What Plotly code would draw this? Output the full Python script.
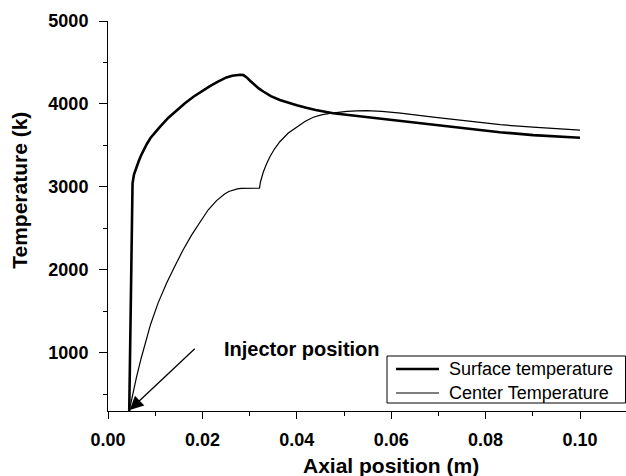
import plotly.graph_objects as go

# Axial temperature profiles along the torch
surface_x = [0.0045, 0.0048, 0.0052, 0.0055, 0.0060, 0.0065, 0.0070, 0.0075, 0.0082, 0.0090,
             0.0100, 0.0110, 0.0128, 0.0146, 0.0163, 0.0181, 0.0198, 0.0216, 0.0233, 0.0251,
             0.0263, 0.0273, 0.0280, 0.0287, 0.0294, 0.0301, 0.0310, 0.0320, 0.0329, 0.0345,
             0.0364, 0.0382, 0.0400, 0.0420, 0.0440, 0.0477, 0.0520, 0.0555, 0.0619, 0.0690,
             0.0760, 0.0830, 0.0901, 0.1000]
surface_T = [300, 1700, 3043, 3150, 3240, 3310, 3380, 3444, 3515, 3590,
             3665, 3725, 3835, 3926, 4010, 4087, 4155, 4216, 4270, 4320,
             4340, 4350, 4352, 4348, 4320, 4280, 4230, 4185, 4150, 4095,
             4048, 4012, 3985, 3955, 3928, 3888, 3860, 3839, 3790, 3745,
             3700, 3660, 3625, 3593]

center_x = [0.0045, 0.0052, 0.0060, 0.0070, 0.0080, 0.0090, 0.0106, 0.0124, 0.0141, 0.0159,
            0.0177, 0.0195, 0.0212, 0.0230, 0.0247, 0.0256, 0.0265, 0.0274, 0.0282, 0.0300,
            0.0321, 0.0323, 0.0325, 0.0329, 0.0336, 0.0343, 0.0353, 0.0364, 0.0382, 0.0400,
            0.0418, 0.0435, 0.0452, 0.0470, 0.0488, 0.0506, 0.0527, 0.0548, 0.0580, 0.0620,
            0.0689, 0.0760, 0.0831, 0.0900, 0.1000]
center_T = [300, 500, 700, 930, 1150, 1340, 1600, 1840, 2039, 2240,
            2420, 2580, 2722, 2835, 2915, 2945, 2965, 2977, 2983, 2985,
            2985, 3060, 3110, 3180, 3280, 3364, 3460, 3545, 3650, 3725,
            3793, 3840, 3868, 3886, 3900, 3912, 3918, 3920, 3912, 3890,
            3842, 3795, 3750, 3722, 3686]

y_ticks = [1000, 2000, 3000, 4000, 5000]
x_ticks = [0.00, 0.02, 0.04, 0.06, 0.08, 0.10]
x_tick_labels = ["0.00", "0.02", "0.04", "0.06", "0.08", "0.10"]

series_names = ["Surface temperature", "Center Temperature"]
series_widths = [2.6, 1.2]

# Arrow pointing at the injector location
injector_tail = (0.0187, 1067)
injector_head = (0.0046, 312)

FONT = "Liberation Sans, Arial, sans-serif"

# Plot-area geometry (pixels) used to place the legend box in paper coordinates
L, T, W, H = 108, 21, 518, 390


def px_x(p):
    return (p - L) / W


def px_y(p):
    return (T + H - p) / H


fig = go.Figure()
fig.add_trace(go.Scatter(x=surface_x, y=surface_T, mode="lines",
                         name=series_names[0], showlegend=False,
                         line=dict(color="black", width=series_widths[0])))
fig.add_trace(go.Scatter(x=center_x, y=center_T, mode="lines",
                         name=series_names[1], showlegend=False,
                         line=dict(color="black", width=series_widths[1])))

# Legend box with line samples
fig.add_shape(type="rect", xref="paper", yref="paper",
              x0=px_x(387), x1=px_x(625.5), y0=px_y(403), y1=px_y(356),
              line=dict(color="black", width=1), fillcolor="white", layer="above")
for row_y, name, w in zip([369, 393], series_names, series_widths):
    fig.add_shape(type="line", xref="paper", yref="paper",
                  x0=px_x(396), x1=px_x(439), y0=px_y(row_y), y1=px_y(row_y),
                  line=dict(color="black", width=w), layer="above")
    fig.add_annotation(x=px_x(447), y=px_y(row_y), xref="paper", yref="paper",
                       text=name, showarrow=False, xanchor="left", yanchor="middle",
                       font=dict(family=FONT, size=18, color="black"))

fig.add_annotation(x=injector_head[0], y=injector_head[1], xref="x", yref="y",
                   ax=injector_tail[0], ay=injector_tail[1], axref="x", ayref="y",
                   text="", showarrow=True, arrowhead=2, arrowsize=2.1,
                   arrowwidth=1.3, arrowcolor="black", standoff=0)
fig.add_annotation(x=0.0241, y=1047, xref="x", yref="y", text="<b>Injector position</b>",
                   showarrow=False, xanchor="left", yanchor="middle",
                   font=dict(family=FONT, size=20, color="black"))

# Axis titles
fig.add_annotation(x=0.06, y=-0.141, xref="x", yref="paper", text="<b>Axial position (m)</b>",
                   showarrow=False, xanchor="center", yanchor="middle",
                   font=dict(family=FONT, size=21, color="black"))
fig.add_annotation(x=-0.170, y=0.567, xref="paper", yref="paper", text="<b>Temperature (k)</b>",
                   showarrow=False, textangle=-90, xanchor="center", yanchor="middle",
                   font=dict(family=FONT, size=21, color="black"))

fig.update_layout(
    width=626, height=476,
    margin=dict(l=L, r=626 - L - W, t=T, b=476 - T - H),
    paper_bgcolor="white", plot_bgcolor="white",
    showlegend=False,
    font=dict(family=FONT, color="black"),
)

fig.update_xaxes(range=[0, 518 / 4720], tickvals=x_ticks, ticktext=x_tick_labels,
                 showgrid=False, zeroline=False, showline=True, linecolor="black",
                 linewidth=1, ticks="outside", ticklen=7, tickwidth=1, tickcolor="black",
                 tickfont=dict(family=FONT, size=18, color="black", weight="bold"),
                 ticklabelstandoff=5,
                 minor=dict(dtick=0.01, tick0=0, ticks="outside", ticklen=4,
                            tickcolor="black", showgrid=False))
fig.update_yaxes(range=[300, 5000], tickvals=y_ticks,
                 showgrid=False, zeroline=False, showline=True, linecolor="black",
                 linewidth=1, ticks="outside", ticklen=8, tickwidth=1, tickcolor="black",
                 tickfont=dict(family=FONT, size=18, color="black", weight="bold"),
                 ticklabelstandoff=7,
                 minor=dict(tickvals=[500, 1500, 2500, 3500, 4500], ticks="outside",
                            ticklen=4, tickcolor="black", showgrid=False))

fig.write_html("out.html")
